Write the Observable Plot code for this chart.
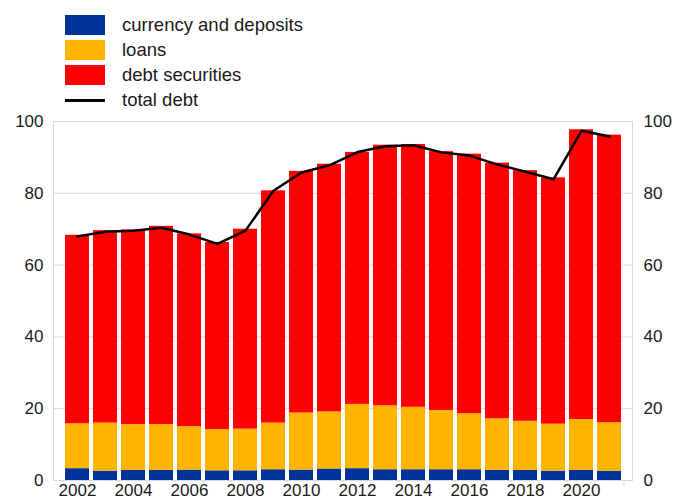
<!DOCTYPE html>
<html>
<head>
<meta charset="utf-8">
<script src="https://cdn.jsdelivr.net/npm/d3@7"></script>
<script src="https://cdn.jsdelivr.net/npm/@observablehq/plot@0.6"></script>
<style>
  html, body { margin: 0; padding: 0; background: #fff; }
  body { width: 676px; height: 500px; position: relative; overflow: hidden; font-family: "Liberation Sans", Arial, sans-serif; }
  #legend { position: absolute; left: 65px; top: 15px; }
  .row { position: relative; height: 25px; }
  .sw { position: absolute; left: 0; top: 0; width: 40px; height: 20px; }
  .ln { position: absolute; left: 0; top: 9px; width: 40px; height: 2.5px; background: #000; }
  .lbl { position: absolute; left: 57px; top: 10px; transform: translateY(-50%); font-size: 18.5px; color: #1a1a1a; white-space: nowrap; }
  #chart { position: absolute; left: 0; top: 110px; }
</style>
</head>
<body>
<div id="legend"></div>
<div id="chart"></div>
<script>
const years = [2002,2003,2004,2005,2006,2007,2008,2009,2010,2011,2012,2013,2014,2015,2016,2017,2018,2019,2020,2021];
const currencyDeposits = [3.3,2.6,2.8,2.8,2.9,2.7,2.7,3.0,2.9,3.2,3.3,3.0,3.0,3.0,3.0,2.8,2.8,2.6,2.8,2.6];
const loans = [12.5,13.4,12.8,12.8,12.1,11.5,11.6,13.0,15.9,15.9,17.9,17.8,17.4,16.5,15.6,14.4,13.7,13.1,14.2,13.5];
const debtSecurities = [52.5,53.6,54.2,55.2,53.7,52.1,55.7,64.7,67.3,69.0,70.2,72.6,73.2,72.1,72.3,71.2,69.8,68.6,80.7,80.1];
const totalDebt = [68.0,69.3,69.6,70.4,68.5,65.9,69.6,80.7,85.8,87.8,91.5,93.1,93.4,91.4,90.5,88.0,86.0,83.9,97.4,95.8];
const seriesNames = ["currency and deposits", "loans", "debt securities"];
const seriesColors = ["#003299", "#FFB400", "#FF0000"];
const xTickLabels = [2002,2004,2006,2008,2010,2012,2014,2016,2018,2020];
const yTicks = [0,20,40,60,80,100];

const seriesValues = [currencyDeposits, loans, debtSecurities];
const long = [];
years.forEach((yr, i) => {
  seriesNames.forEach((s, k) => long.push({year: String(yr), series: s, value: seriesValues[k][i]}));
});
const totals = years.map((yr, i) => ({year: String(yr), total: totalDebt[i]}));

// legend
const legend = document.getElementById("legend");
seriesNames.forEach((s, k) => {
  const r = document.createElement("div"); r.className = "row";
  r.innerHTML = `<div class="sw" style="background:${seriesColors[k]}"></div><div class="lbl">${s}</div>`;
  legend.appendChild(r);
});
{
  const r = document.createElement("div"); r.className = "row";
  r.innerHTML = `<div class="ln"></div><div class="lbl">total debt</div>`;
  legend.appendChild(r);
}

const W = 676, ml = 53, mr = 44;
const n = years.length;
const step = (W - ml - mr) / n;

const chart = Plot.plot({
  width: W,
  height: 390,
  marginTop: 11,
  marginBottom: 20,
  marginLeft: ml,
  marginRight: mr,
  style: {fontFamily: '"Liberation Sans", Arial, sans-serif', fontSize: "17px", color: "#1a1a1a", background: "#fff", overflow: "visible"},
  x: {type: "band", domain: years.map(String), paddingInner: 0.16, paddingOuter: 0.08, align: 0.5},
  y: {domain: [0, 100]},
  color: {domain: seriesNames, range: seriesColors},
  marks: [
    Plot.gridY(yTicks.filter(d => d > 0 && d < 100), {stroke: "#d9d9d9", strokeOpacity: 1, strokeWidth: 1}),
    Plot.barY(long, {x: "year", y: "value", fill: "series", order: seriesNames}),
    Plot.frame({stroke: "#d9d9d9", strokeWidth: 1}),
    Plot.line(totals, {x: "year", y: "total", stroke: "#000", strokeWidth: 2.5}),
    Plot.axisY(yTicks, {anchor: "left", tickSize: 0, tickPadding: 10, label: null}),
    Plot.axisY(yTicks, {anchor: "right", tickSize: 0, tickPadding: 11, label: null}),
    Plot.axisX(years.map(String), {anchor: "bottom", tickSize: 6, tickFormat: () => "", dx: -step / 2, stroke: "#d9d9d9", label: null}),
    Plot.axisX([String(years[n - 1])], {anchor: "bottom", tickSize: 6, tickFormat: () => "", dx: step / 2, stroke: "#d9d9d9", label: null}),
    Plot.axisX(xTickLabels.map(String), {anchor: "bottom", tickSize: 0, tickPadding: 3, label: null})
  ]
});
document.getElementById("chart").appendChild(chart);
</script>
</body>
</html>
